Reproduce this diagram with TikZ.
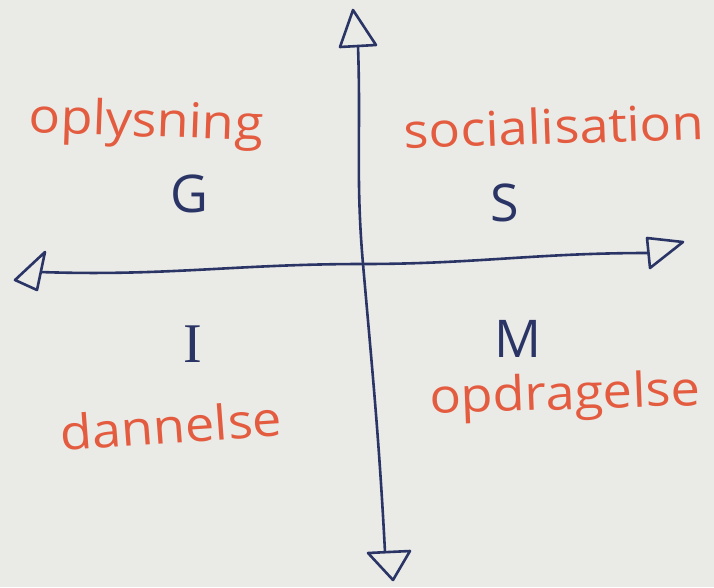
\documentclass[tikz,border=0pt]{standalone}
\usepackage{fontspec}
\setmainfont{Open Sans}
\newfontfamily\serifletters{Liberation Serif}
\definecolor{paper}{HTML}{EAEAE7}
\definecolor{ink}{HTML}{2A3566}
\definecolor{redink}{HTML}{E45C40}
\begin{document}
\begin{tikzpicture}[x=1pt,y=-1pt,
  axis/.style={draw=ink,line width=2.6pt,line cap=round,line join=round},
  head/.style={draw=ink,line width=2.6pt,line join=round,fill=paper},
  word/.style={text=redink,font=\fontsize{48}{48}\selectfont,inner sep=0pt,xscale=1.09},
  letter/.style={text=ink,font=\fontsize{52}{52}\selectfont,inner sep=0pt}]
\fill[paper] (0,0) rectangle (714,587);
\useasboundingbox (0,0) rectangle (714,587);
% axis end points
\coordinate (topshaft) at (358,46);
\coordinate (mid) at (363,264);
\coordinate (botshaft) at (385,552);
\coordinate (leftshaft) at (40,272);
\coordinate (rightshaft) at (648,253);
% axes
\draw[axis] (topshaft) to[out=-88,in=95] (mid) to[out=-85,in=93] (botshaft);
\draw[axis] (leftshaft) to[out=-2,in=180] (mid) to[out=0,in=180] (rightshaft);
% arrow heads
\draw[head] (353,10) -- (376,45) -- (340,47) -- cycle;
\draw[head] (393,580) -- (410,551) -- (368,553) -- cycle;
\draw[head] (15,280) -- (45,252) -- (37,290) -- cycle;
\draw[head] (683,242) -- (647,238) -- (650,268) -- cycle;
% words
\node[word,rotate=-2] (oplysning) at (146,124) {oplysning};
\node[word,rotate=2] (socialisation) at (554,126) {socialisation};
\node[word,rotate=4] (dannelse) at (171,425) {dannelse};
\node[word,rotate=2] (opdragelse) at (565,397) {opdragelse};
% letters
\node[letter] (G) at (189,194) {G};
\node[letter] (S) at (505,203) {S};
\node[letter,font=\serifletters\fontsize{56}{56}\selectfont] (I) at (193,344) {I};
\node[letter] (M) at (518,339) {M};
\end{tikzpicture}
\end{document}
